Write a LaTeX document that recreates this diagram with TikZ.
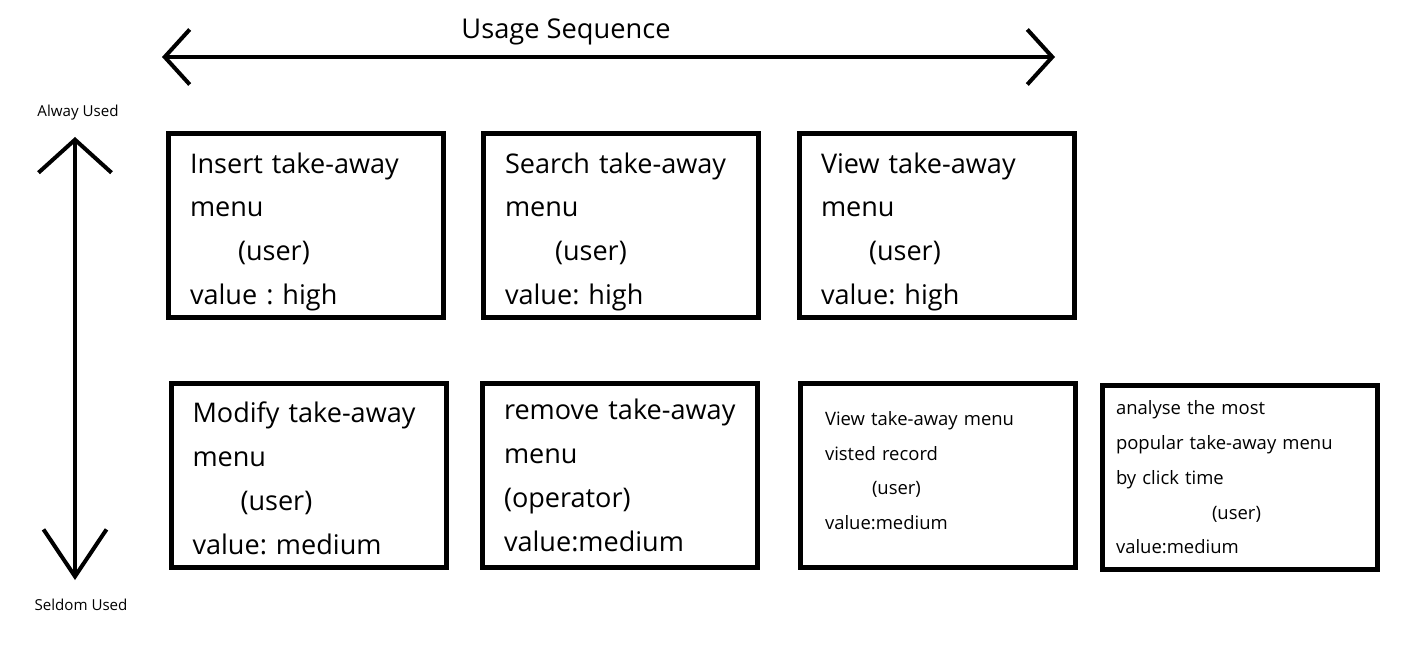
\documentclass[tikz,border=0pt]{standalone}
\usepackage{fontspec}
\setmainfont{Open Sans}
\frenchspacing
\usetikzlibrary{arrows.meta,positioning}

\begin{document}
\begin{tikzpicture}[
   x=0.2mm,y=-0.2mm,
   node distance=12.2mm and 7mm,
   task/.style={draw,line width=1mm,minimum width=55mm,minimum height=36.8mm,
               inner xsep=4.3mm,text width=46.4mm,align=left,
               font=\fontsize{15.4}{25}\selectfont},
   small/.style={task,font=\fontsize{10.5}{19.8}\selectfont},
   lower/.style={execute at begin node={\rule{0pt}{#1}}},
   axis/.style={line width=0.8mm,line cap=round,line join=round},
   lbl/.style={font=\fontsize{8.6}{10}\selectfont,inner sep=0pt}
  ]
  \useasboundingbox (0,0) rectangle (1411,648);

  % usage sequence axis
  \coordinate (seqL) at (162,57);
  \coordinate (seqR) at (1055,57);
  \draw[axis,{Straight Barb[length=5mm,width=11mm]}-{Straight Barb[length=5mm,width=11mm]}]
        (seqL) -- (seqR);
  \node[font=\fontsize{15.5}{18}\selectfont] (seq) at (566,32) {Usage Sequence};

  % frequency axis
  \coordinate (useT) at (75,137);
  \coordinate (useB) at (75,580);
  \draw[axis,{Straight Barb[length=6.6mm,width=14.6mm]}-{Straight Barb[length=9.4mm,width=12.6mm]}]
        (useT) -- (useB);
  \node[lbl] (always) at (78,113) {Alway Used};
  \node[lbl] (seldom) at (81,605) {Seldom Used};

  % high value tasks
  \node[task,lower=19pt] (insert) at (306,225.5)
        {Insert take-away\\menu\\\hspace*{9.6mm}(user)\\value : high};
  \node[task,lower=19pt,right=of insert] (search)
        {Search take-away\\menu\\\hspace*{10mm}(user)\\value: high};
  \node[task,lower=19pt,right=7.2mm of search] (view)
        {View take-away\\menu\\\hspace*{9.6mm}(user)\\value: high};

  % medium value tasks
  \node[task,lower=15pt,below=of insert,xshift=0.5mm] (modify)
        {Modify take-away\\menu\\\hspace*{9.6mm}(user)\\value: medium};
  \node[task,right=6.3mm of modify] (remove)
        {remove take-away\\menu\\(operator)\\value:medium};
  \node[small,right=7.6mm of remove,inner xsep=4.9mm,text width=45.2mm] (record)
        {View take-away menu\\visted record\\\hspace*{9.4mm}(user)\\value:medium\rule[-2mm]{0pt}{0pt}};
  \node[small,right=4.4mm of record,yshift=-0.4mm,inner xsep=2.7mm,text width=49.6mm] (popular)
        {analyse the most\\popular take-away menu\\by click time\\\hspace*{19.2mm}(user)\\value:medium};
\end{tikzpicture}
\end{document}
